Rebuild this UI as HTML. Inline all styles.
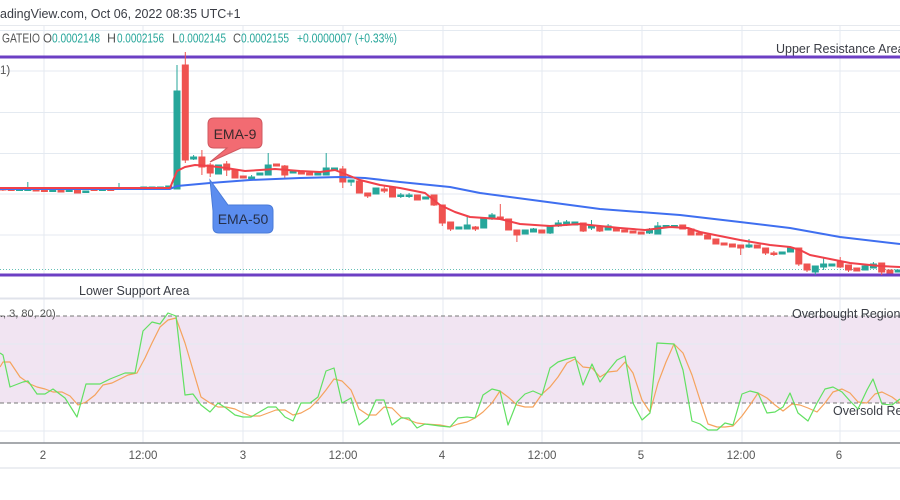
<!DOCTYPE html>
<html><head><meta charset="utf-8"><style>
html,body{margin:0;padding:0;background:#fff;}
svg{display:block;}
text{font-family:"Liberation Sans","DejaVu Sans",sans-serif;}
</style></head><body>
<svg width="900" height="500" viewBox="0 0 900 500" xmlns="http://www.w3.org/2000/svg">
<rect x="0" y="0" width="900" height="500" fill="#fff"/>
<!-- header -->
<text x="0" y="18" font-size="12.5" fill="#3a3d45">adingView.com, Oct 06, 2022 08:35 UTC+1</text>
<line x1="0" y1="25.5" x2="900" y2="25.5" stroke="#e6e9ee" stroke-width="1"/>
<!-- indicator fill -->
<rect x="0" y="316" width="900" height="87" fill="#f1e4f2"/>
<!-- gridlines -->
<g stroke="#e4eaf1" stroke-width="1">
<line x1="44" y1="26" x2="44" y2="443"/>
<line x1="143" y1="26" x2="143" y2="443"/>
<line x1="243" y1="26" x2="243" y2="443"/>
<line x1="343" y1="26" x2="343" y2="443"/>
<line x1="443" y1="26" x2="443" y2="443"/>
<line x1="542" y1="26" x2="542" y2="443"/>
<line x1="642" y1="26" x2="642" y2="443"/>
<line x1="742" y1="26" x2="742" y2="443"/>
<line x1="840" y1="26" x2="840" y2="443"/>
<line x1="0" y1="30.5" x2="900" y2="30.5"/>
<line x1="0" y1="71" x2="900" y2="71"/>
<line x1="0" y1="112.5" x2="900" y2="112.5"/>
<line x1="0" y1="153.5" x2="900" y2="153.5"/>
<line x1="0" y1="194" x2="900" y2="194"/>
<line x1="0" y1="235" x2="900" y2="235"/>
<line x1="0" y1="344" x2="900" y2="344"/>
<line x1="0" y1="374" x2="900" y2="374"/>
<line x1="0" y1="431" x2="900" y2="431"/>
</g>
<line x1="0" y1="298.5" x2="900" y2="298.5" stroke="#e0e3eb" stroke-width="2"/>
<!-- legend -->
<g font-size="12.5">
<text x="2" y="42.5" fill="#555" textLength="38" lengthAdjust="spacingAndGlyphs">GATEIO</text>
<text x="43" y="42.5" fill="#555" textLength="9" lengthAdjust="spacingAndGlyphs">O</text><text x="52" y="42.5" fill="#26a69a" textLength="48" lengthAdjust="spacingAndGlyphs">0.0002148</text>
<text x="107" y="42.5" fill="#555" textLength="9" lengthAdjust="spacingAndGlyphs">H</text><text x="117" y="42.5" fill="#26a69a" textLength="47" lengthAdjust="spacingAndGlyphs">0.0002156</text>
<text x="172" y="42.5" fill="#555" textLength="7" lengthAdjust="spacingAndGlyphs">L</text><text x="179" y="42.5" fill="#26a69a" textLength="47" lengthAdjust="spacingAndGlyphs">0.0002145</text>
<text x="233" y="42.5" fill="#555" textLength="8" lengthAdjust="spacingAndGlyphs">C</text><text x="241" y="42.5" fill="#26a69a" textLength="48" lengthAdjust="spacingAndGlyphs">0.0002155</text>
<text x="297" y="42.5" fill="#26a69a" textLength="100" lengthAdjust="spacingAndGlyphs">+0.0000007 (+0.33%)</text>
</g>
<text x="0" y="74" font-size="11.5" fill="#555">1)</text>
<!-- purple lines -->
<line x1="0" y1="57" x2="900" y2="57" stroke="#6c3fc4" stroke-width="3"/>
<line x1="0" y1="275" x2="900" y2="275" stroke="#6c3fc4" stroke-width="3"/>
<line x1="0" y1="269.5" x2="900" y2="269.5" stroke="#26a69a" stroke-width="1" stroke-dasharray="1 2" opacity="0.7"/>
<text x="776" y="53" font-size="12.5" fill="#3a3d45">Upper Resistance Area</text>
<text x="79" y="295" font-size="12.5" fill="#3a3d45">Lower Support Area</text>
<!-- candles -->
<g stroke-width="1">
<g fill="#ef5350" stroke="#ef5350">
<line x1="2.9" y1="187" x2="2.9" y2="191"/><rect x="0" y="188" width="6" height="2"/>
<rect x="8.2" y="189" width="6" height="1.5"/>
<rect x="33.1" y="189" width="6" height="2"/>
<rect x="41.4" y="190" width="6" height="1.5"/>
<rect x="58" y="190" width="6" height="2"/>
<rect x="74.5" y="190" width="6" height="3"/>
<rect x="91.1" y="189" width="6" height="1.5"/>
<rect x="107.7" y="189" width="6" height="1.5"/>
<rect x="124.3" y="188" width="6" height="1.5"/>
<line x1="185.3" y1="52" x2="185.3" y2="163"/><rect x="182.3" y="65" width="6" height="95"/>
<line x1="201.9" y1="150" x2="201.9" y2="175"/><rect x="198.9" y="157" width="6" height="10"/>
<line x1="210.2" y1="163" x2="210.2" y2="177"/><rect x="207.2" y="165" width="6" height="8"/>
<line x1="226.7" y1="161" x2="226.7" y2="176"/><rect x="223.7" y="164" width="6" height="6"/>
<rect x="232" y="170" width="6" height="8"/>
<rect x="240.3" y="176" width="6" height="2"/>
<rect x="273.5" y="164" width="6" height="2"/>
<line x1="284.8" y1="165" x2="284.8" y2="178"/><rect x="281.8" y="166" width="6" height="9"/>
<rect x="298.4" y="172" width="6" height="2"/>
<rect x="306.6" y="173" width="6" height="2"/>
<line x1="342.8" y1="166" x2="342.8" y2="188"/><rect x="339.8" y="169" width="6" height="13"/>
<rect x="356.4" y="181" width="6" height="12"/>
<line x1="367.7" y1="193" x2="367.7" y2="198"/><rect x="364.7" y="193" width="6" height="3"/>
<line x1="384.3" y1="186" x2="384.3" y2="193"/><rect x="381.3" y="189" width="6" height="2"/>
<rect x="389.5" y="188" width="6" height="9"/>
<rect x="414.4" y="195" width="6" height="5"/>
<line x1="434" y1="195" x2="434" y2="206"/><rect x="431" y="195" width="6" height="10"/>
<line x1="442.3" y1="205" x2="442.3" y2="226"/><rect x="439.3" y="205" width="6" height="18"/>
<line x1="450.6" y1="222" x2="450.6" y2="231"/><rect x="447.6" y="222" width="6" height="7"/>
<line x1="475.4" y1="226" x2="475.4" y2="231"/><rect x="472.4" y="227" width="6" height="2"/>
<line x1="500.3" y1="204" x2="500.3" y2="219"/><rect x="497.3" y="217" width="6" height="2"/>
<rect x="505.6" y="219" width="6" height="11"/>
<line x1="516.9" y1="230" x2="516.9" y2="242"/><rect x="513.9" y="230" width="6" height="5"/>
<rect x="538.8" y="230" width="6" height="3"/>
<line x1="583.2" y1="223" x2="583.2" y2="232"/><rect x="580.2" y="223" width="6" height="8"/>
<line x1="599.8" y1="225" x2="599.8" y2="232"/><rect x="596.8" y="226" width="6" height="5"/>
<rect x="613.4" y="228" width="6" height="3"/>
<rect x="621.7" y="230" width="6" height="2"/>
<rect x="630" y="231" width="6" height="2"/>
<rect x="638.2" y="232" width="6" height="2"/>
<rect x="679.7" y="225" width="6" height="4"/>
<rect x="688" y="229" width="6" height="6"/>
<rect x="696.3" y="233" width="6" height="2"/>
<rect x="704.6" y="235" width="6" height="4"/>
<rect x="712.9" y="239" width="6" height="5"/>
<rect x="721.1" y="243" width="6" height="2"/>
<rect x="729.4" y="244" width="6" height="3"/>
<line x1="740.7" y1="245" x2="740.7" y2="255"/><rect x="737.7" y="245" width="6" height="3"/>
<rect x="754.3" y="245" width="6" height="3"/>
<line x1="765.6" y1="248" x2="765.6" y2="255"/><rect x="762.6" y="248" width="6" height="5"/>
<line x1="773.9" y1="251" x2="773.9" y2="256"/><rect x="770.9" y="253" width="6" height="1.5"/>
<line x1="798.8" y1="248" x2="798.8" y2="266"/><rect x="795.8" y="248" width="6" height="16"/>
<line x1="807" y1="264" x2="807" y2="272"/><rect x="804" y="264" width="6" height="6"/>
<line x1="840.2" y1="257" x2="840.2" y2="268"/><rect x="837.2" y="262" width="6" height="5"/>
<line x1="848.5" y1="265" x2="848.5" y2="272"/><rect x="845.5" y="265" width="6" height="5"/>
<rect x="853.8" y="268" width="6" height="3"/>
<line x1="881.7" y1="263" x2="881.7" y2="275"/><rect x="878.7" y="263" width="6" height="9"/>
<rect x="886.9" y="270" width="6" height="3"/>
</g>
<g fill="#26a69a" stroke="#26a69a">
<rect x="16.5" y="189" width="6" height="1.5"/>
<line x1="27.8" y1="182" x2="27.8" y2="190"/><rect x="24.8" y="189" width="6" height="1.5"/>
<rect x="49.7" y="190" width="6" height="1.5"/>
<rect x="66.2" y="190" width="6" height="1.5"/>
<rect x="82.8" y="191" width="6" height="1.5"/>
<rect x="99.4" y="189" width="6" height="1.5"/>
<line x1="119" y1="183" x2="119" y2="189"/><rect x="116" y="188" width="6" height="1.5"/>
<rect x="132.6" y="188" width="6" height="1.5"/>
<rect x="140.8" y="187" width="6" height="1.5"/>
<rect x="149.1" y="187" width="6" height="1.5"/>
<rect x="157.4" y="187" width="6" height="1.5"/>
<rect x="165.7" y="186" width="6" height="2"/>
<line x1="177" y1="65" x2="177" y2="189"/><rect x="174" y="91" width="6" height="98"/>
<line x1="193.6" y1="155" x2="193.6" y2="160"/><rect x="190.6" y="157" width="6" height="2"/>
<rect x="215.5" y="165" width="6" height="9"/>
<line x1="251.6" y1="175" x2="251.6" y2="180"/><rect x="248.6" y="177" width="6" height="1.5"/>
<rect x="256.9" y="173" width="6" height="2"/>
<line x1="268.2" y1="153" x2="268.2" y2="175"/><rect x="265.2" y="165" width="6" height="10"/>
<rect x="290.1" y="171" width="6" height="2"/>
<rect x="314.9" y="173" width="6" height="2"/>
<line x1="326.2" y1="153" x2="326.2" y2="175"/><rect x="323.2" y="168" width="6" height="7"/>
<rect x="331.5" y="168" width="6" height="2"/>
<line x1="351.1" y1="180" x2="351.1" y2="186"/><rect x="348.1" y="180" width="6" height="2"/>
<rect x="373" y="188" width="6" height="6"/>
<line x1="400.8" y1="193" x2="400.8" y2="198"/><rect x="397.8" y="195" width="6" height="1.5"/>
<line x1="409.1" y1="193" x2="409.1" y2="198"/><rect x="406.1" y="195" width="6" height="1.5"/>
<rect x="422.7" y="197" width="6" height="2"/>
<rect x="455.9" y="227" width="6" height="2"/>
<line x1="467.2" y1="217" x2="467.2" y2="229"/><rect x="464.2" y="225" width="6" height="4"/>
<rect x="480.7" y="219" width="6" height="9"/>
<line x1="492" y1="213" x2="492" y2="220"/><rect x="489" y="215" width="6" height="4"/>
<rect x="522.2" y="230" width="6" height="4"/>
<line x1="533.5" y1="228" x2="533.5" y2="232"/><rect x="530.5" y="229" width="6" height="3"/>
<line x1="550.1" y1="225" x2="550.1" y2="234"/><rect x="547.1" y="226" width="6" height="7"/>
<line x1="558.3" y1="220" x2="558.3" y2="227"/><rect x="555.3" y="223" width="6" height="3"/>
<line x1="566.6" y1="220" x2="566.6" y2="226"/><rect x="563.6" y="222" width="6" height="3"/>
<rect x="571.9" y="222" width="6" height="3"/>
<line x1="591.5" y1="220" x2="591.5" y2="230"/><rect x="588.5" y="226" width="6" height="2"/>
<line x1="608.1" y1="224" x2="608.1" y2="230"/><rect x="605.1" y="226" width="6" height="4"/>
<line x1="649.5" y1="228" x2="649.5" y2="234"/><rect x="646.5" y="230" width="6" height="3"/>
<line x1="657.8" y1="222" x2="657.8" y2="234"/><rect x="654.8" y="226" width="6" height="8"/>
<rect x="663.1" y="225.5" width="6" height="1.5"/>
<rect x="671.4" y="225.5" width="6" height="1.5"/>
<line x1="749" y1="239" x2="749" y2="248"/><rect x="746" y="245" width="6" height="2"/>
<rect x="779.2" y="252" width="6" height="2"/>
<rect x="787.5" y="248" width="6" height="4"/>
<line x1="815.3" y1="266" x2="815.3" y2="275"/><rect x="812.3" y="266" width="6" height="6"/>
<line x1="823.6" y1="257" x2="823.6" y2="270"/><rect x="820.6" y="264" width="6" height="3"/>
<rect x="828.9" y="264" width="6" height="2"/>
<rect x="862.1" y="266" width="6" height="4"/>
<line x1="873.4" y1="262" x2="873.4" y2="268"/><rect x="870.4" y="264" width="6" height="4"/>
<rect x="895.2" y="270" width="6" height="2"/>
</g>
</g>
<!-- EMA lines -->
<polyline fill="none" stroke="#3f6ff0" stroke-width="2" stroke-linejoin="round" points="0,189 170,189 177,186 210,183 250,180 300,178 340,177 365,178 400,182 450,187 480,193 540,201 600,209 680,215 740,222 790,228 840,237 900,244"/>
<polyline fill="none" stroke="#f0414a" stroke-width="2" stroke-linejoin="round" points="0,188 170,188 177,171 185,167 195,165 210,166 226,168 245,171 260,170 275,169 300,171 320,172 335,170 345,174 360,180 380,185 400,188 425,193 440,205 455,212 470,217 500,219 520,224 550,226 580,224 620,228 645,230 670,227 688,228 700,232 720,236 740,240 770,245 790,247 800,250 810,255 830,259 850,263 880,266 900,267"/>
<!-- callouts -->
<path d="M214,118 H256 Q262,118 262,124 V142 Q262,148 256,148 H241 L210,162 L227,148 H214 Q208,148 208,142 V124 Q208,118 214,118 Z" fill="#f26b72" stroke="#cf5860" stroke-width="1"/>
<text x="235" y="139" font-size="14" fill="#3a2a2c" text-anchor="middle">EMA-9</text>
<path d="M210,180 L228,205 H267 Q273,205 273,211 V227 Q273,233 267,233 H219 Q213,233 213,227 V211 Z" fill="#5b8def" stroke="#4a7bd9" stroke-width="1"/>
<text x="243" y="224" font-size="14" fill="#26304a" text-anchor="middle">EMA-50</text>
<!-- indicator -->
<line x1="0" y1="316" x2="900" y2="316" stroke="#777" stroke-width="1" stroke-dasharray="4 3"/>
<line x1="0" y1="403" x2="900" y2="403" stroke="#777" stroke-width="1" stroke-dasharray="4 3"/>
<text x="0" y="317" font-size="11" fill="#555">., 3, 80, 20)</text>
<text x="792" y="318" font-size="12.5" fill="#3a3d45">Overbought Region</text>
<text x="833" y="415" font-size="12.5" fill="#3a3d45">Oversold Region</text>
<polyline fill="none" stroke="#f5a35e" stroke-width="1.2" stroke-linejoin="round" points="0,367 3,362 10,362 20,377 30,384 37,387 45,389 53,392 62,392 70,396 78,405 86,402 95,395 103,385 112,383 120,379 128,375 137,373 145,358 152,343 160,327 168,320 176,318 185,343 193,370 201,397 210,403 218,407 226,407 235,409 243,413 251,416 260,416 268,413 276,410 285,410 293,415 301,413 310,408 318,400 326,390 334,379 342,381 351,390 359,409 368,415 376,415 384,407 392,408 401,417 409,420 417,423 425,424 440,425 450,427 458,424 467,422 475,418 483,412 492,403 500,391 508,397 517,405 525,407 533,407 542,394 550,387 558,377 567,363 575,359 583,367 592,368 600,377 608,372 617,371 625,362 633,373 642,400 650,412 658,383 666,362 674,344 683,353 692,375 700,400 708,424 717,427 725,427 733,426 742,416 750,405 758,393 767,398 775,405 783,411 792,404 800,405 808,408 817,412 825,403 833,392 842,389 850,393 858,402 867,403 875,394 882,392 892,397 900,403"/>
<polyline fill="none" stroke="#62e062" stroke-width="1.2" stroke-linejoin="round" points="0,353 3,355 10,387 23,382 28,381 37,394 45,394 53,389 65,398 77,417 86,384 100,384 110,379 125,373 135,373 143,331 152,322 160,324 168,313 176,316 185,395 193,394 201,405 210,412 218,403 226,408 235,415 243,417 251,417 268,407 276,407 285,417 293,421 301,403 310,403 318,397 326,371 334,368 342,403 351,398 359,425 368,418 376,400 384,400 392,425 401,418 409,418 417,428 425,424 440,426 450,427 458,418 467,417 475,418 483,395 492,389 500,391 508,425 517,402 525,394 533,391 542,395 550,368 558,362 567,359 575,357 583,385 592,364 600,382 608,371 617,360 625,356 633,403 642,420 650,413 657,343 674,344 683,370 692,421 700,424 708,430 717,430 725,423 733,425 742,394 750,391 758,393 767,413 775,412 783,407 790,393 798,413 808,421 817,403 825,389 833,387 842,392 850,401 858,409 867,390 873,379 882,404 892,405 900,399"/>
<!-- x axis -->
<line x1="0" y1="443" x2="900" y2="443" stroke="#8a8d94" stroke-width="1.5"/>
<line x1="0" y1="468" x2="900" y2="468" stroke="#eceef2" stroke-width="2"/>
<g font-size="11.5" fill="#555" text-anchor="middle">
<text x="43" y="459">2</text>
<text x="143" y="459">12:00</text>
<text x="243" y="459">3</text>
<text x="343" y="459">12:00</text>
<text x="442" y="459">4</text>
<text x="542" y="459">12:00</text>
<text x="641" y="459">5</text>
<text x="741" y="459">12:00</text>
<text x="839" y="459">6</text>
</g>
</svg>
</body></html>
